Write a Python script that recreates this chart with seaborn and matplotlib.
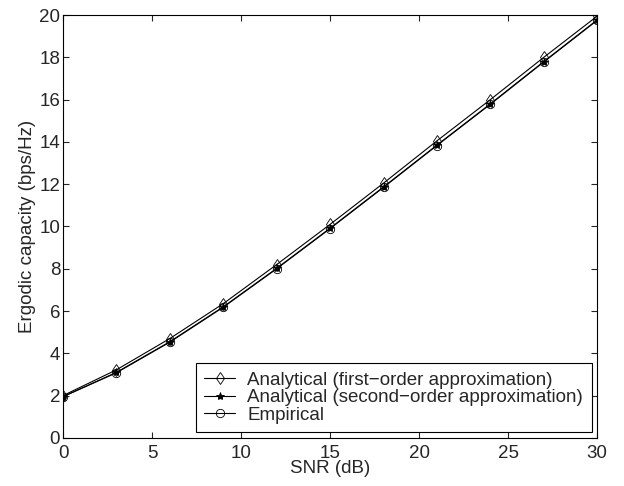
import numpy as np
import pandas as pd
import matplotlib
matplotlib.use("Agg")
import matplotlib.pyplot as plt
import seaborn as sns

sns.set_style("ticks")
plt.rcParams['font.family'] = ['Liberation Sans', 'DejaVu Sans']

snr_db = [0, 3, 6, 9, 12, 15, 18, 21, 24, 27, 30]
first_order = [2.0, 3.22, 4.7, 6.35, 8.2, 10.1, 12.05, 14.05, 16.0, 18.0, 19.95]
second_order = [1.95, 3.1, 4.55, 6.2, 8.02, 9.92, 11.87, 13.85, 15.8, 17.8, 19.77]
empirical = [1.95, 3.08, 4.53, 6.18, 8.0, 9.9, 11.85, 13.83, 15.78, 17.78, 19.75]

labels = ["Analytical (first\u2212order approximation)",
          "Analytical (second\u2212order approximation)",
          "Empirical"]
markers = ["d", "*", "o"]

df = pd.DataFrame({
    "snr": snr_db * 3,
    "cap": first_order + second_order + empirical,
    "series": [labels[0]] * 11 + [labels[1]] * 11 + [labels[2]] * 11,
})

fs = 13.5
fig = plt.figure(figsize=(6.24, 4.86), dpi=100)
ax = fig.add_axes([0.101, 0.099, 0.856, 0.870])

for lab, mk in zip(labels, markers):
    sub = df[df["series"] == lab]
    face = "black" if mk == "*" else "none"
    sns.lineplot(data=sub, x="snr", y="cap", ax=ax, color="black", lw=0.8,
                 marker=mk, markersize=6, markerfacecolor=face,
                 markeredgecolor="black", markeredgewidth=0.6, label=lab)

ax.set_xlim(0, 30)
ax.set_ylim(0, 20)
ax.set_xticks(range(0, 31, 5))
ax.set_yticks(range(0, 21, 2))
ax.set_xlabel("SNR (dB)", fontsize=fs, labelpad=-1)
ax.set_ylabel("Ergodic capacity (bps/Hz)", fontsize=fs, labelpad=2)
ax.tick_params(direction="in", top=True, right=True, labelsize=fs, length=4,
               width=0.8)
ax.tick_params(axis="y", pad=2)
ax.tick_params(axis="x", pad=5)
for s in ax.spines.values():
    s.set_linewidth(0.8)
    s.set_color("black")

leg = ax.legend(loc="lower right", fontsize=fs, frameon=True, fancybox=False,
                borderpad=0.45, labelspacing=0.02, handlelength=1.65,
                handletextpad=0.65, borderaxespad=0.3)
leg.get_frame().set_edgecolor("black")
leg.get_frame().set_linewidth(0.8)
leg.get_frame().set_alpha(1)

fig.savefig("out.png", dpi=100)
